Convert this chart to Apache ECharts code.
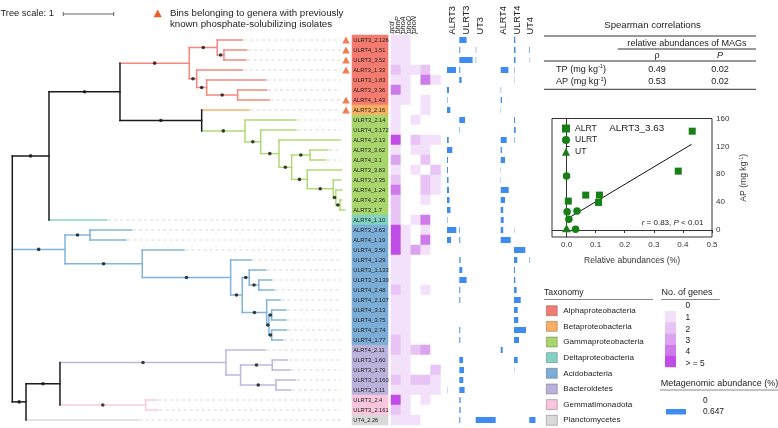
<!DOCTYPE html>
<html><head><meta charset="utf-8">
<script src="https://cdn.jsdelivr.net/npm/echarts@6/dist/echarts.min.js"></script>
<style>html,body{margin:0;padding:0;background:#fff}#c{width:778px;height:428px}</style>
</head><body><div id="c"></div>
<script>
// ---------------- DATA ----------------
const leafNames = ['ULRT3_2.126','ULRT4_1.51','ULRT3_3.52','ALRT3_1.33','ULRT3_1.83','ALRT3_3.36','ALRT4_1.43','ALRT3_2.16',
 'ULRT3_2.14','ULRT4_3.172','ALRT4_2.13','ALRT3_3.62','ALRT4_3.1','ALRT3_3.83','ALRT3_3.35','ALRT4_1.24','ALRT4_2.36','ALRT3_1.7',
 'ALRT4_1.10','ALRT3_3.63','ALRT4_1.19','ULRT4_3.50','ULRT4_1.29','ULRT3_1.133','ULRT3_3.130','ULRT4_2.48','ULRT4_2.107','ULRT4_3.13',
 'ULRT4_3.75','ULRT4_2.74','ULRT4_1.77','ALRT4_2.11','ULRT3_1.60','ULRT3_1.79','ULRT3_1.160','ULRT3_1.11','ULRT3_2.4','ULRT3_2.161','UT4_2.26'];
const leafClade = [0,0,0,0,0,0,0,1,2,2,2,2,2,2,2,2,2,2,3,4,4,4,4,4,4,4,4,4,4,4,4,5,5,5,5,5,6,6,7];
const psiLeaves = [0,1,2,3,6,7];
const cladeNames = ['Alphaproteobacteria','Betaproteobacteria','Gammaproteobacteria','Deltaproteobacteria','Acidobacteria','Bacteroidetes','Gemmatimonadota','Planctomycetes'];
const cladeColors = ['#F47B6F','#F9AE62','#A9D56D','#82D2C2','#7BADD6','#BBB2DB','#F9C6DD','#D9D9D9'];
const treeColors  = ['#F5877C','#F9B46E','#B0DB74','#88D6C6','#80B4DE','#BFB6E0','#FAC9E0','#D8D8D8'];
// Newick: leaves are row indices, '*' marks supported internal nodes (black dots); branch lengths in tree units
const treeNewick = "(((((0:0.496,(1:0.451,2:0.437)*:0.133)*:0.555,(3:0.904,(4:1.171,(5:0.576,6:0.627)*:0.615)*:0.198)*:0.147)*:1.375,(7:0.938,(8:1.012,(9:0.7,(10:1.208,((11:0.351,12:0.317)*:0.363,(13:0.677,(14:0.151,(15:0.12,(16:0.04,17:0.1)*:0.08)*:0.051)*:0.516)*:0.309)*:0.252)*:0.363)*:0.312)*:0.859)*:1.621)*:1.409,18:1.145)*:0.728,((19:0.827,20:0.714)*:0.496,(21:0.828,(22:0.403,((23:0.326,(24:0.256,25:0.301)*:0.189)*:0.139,(26:0.264,((27:0.284,28:0.284)*:0.054,(29:0.297,30:0.218)*:0.054)*:0.045)*:0.485)*:0.23)*:1.754)*:1.533)*:1.046,(((31:0.774,((32:0.297,33:0.351)*:0.629,(34:0.391,35:0.292)*:0.702):0.29)*:3.294,(36:0.218,37:0.25)*:1.701)*:0.674,38:2.228)*:0.272);";

const genes = ['gcd','phnP','phoA','phoD','phoN'];
const gcd  = [1,1,1,2,1,4,1,1,1,1,5,1,3,1,2,4,2,2,2,5,5,5,1,1,1,2,1,1,1,1,2,2,1,1,2,1,5,2,1];
const phnP = [1,1,1,1,1,1,1,0,0,0,0,0,0,0,0,0,0,0,0,1,1,1,1,1,1,1,1,1,1,1,1,1,1,1,1,1,1,1,1];
const phoA = [0,0,0,1,0,0,0,0,1,0,2,1,0,1,0,0,0,0,1,0,0,3,0,0,0,0,0,0,0,0,0,2,0,0,2,1,0,0,1];
const phoD = [0,0,0,2,4,0,1,1,0,0,1,1,2,0,2,2,1,0,4,1,4,1,0,0,0,1,0,0,0,0,0,3,0,0,2,1,1,0,0];
const phoN = [0,0,0,0,1,0,0,0,0,0,1,0,0,2,1,1,0,0,0,0,0,0,0,0,0,0,0,0,0,0,0,0,0,2,1,1,0,0,0];
const geneLevelLabels = ['0','1','2','3','4','> = 5'];
const geneLevelColors = ['#FFFFFF','#F3E0FB','#E8C3F5','#DCA3F1','#CF7AEB','#C24CE7'];

const samples = ['ALRT3','ULRT3','UT3','ALRT4','ULRT4','UT4'];
const abALRT3 = [0,0,0,0.291,0,0.065,0.016,0.107,0,0,0.055,0.171,0.032,0.032,0.049,0.065,0.081,0.113,0.016,0.301,0.129,0,0,0,0,0,0,0,0,0,0,0,0,0,0,0.01,0,0,0];
const abULRT3 = [0.236,0.032,0.43,0.032,0.074,0,0,0,0.184,0.016,0,0,0,0,0,0,0,0,0,0.023,0.032,0,0.042,0.097,0.236,0.032,0.032,0,0,0.032,0.032,0,0.12,0.152,0.129,0.171,0.042,0.042,0.032];
const abUT3   = [0,0.016,0.016,0,0,0,0,0,0,0,0,0,0,0,0,0,0,0,0,0,0,0,0,0,0,0,0,0,0,0,0,0,0,0,0,0,0,0,0.647];
const abALRT4 = [0,0,0,0.249,0,0.016,0.042,0.01,0,0,0.194,0.042,0.139,0.01,0.01,0.259,0.139,0.081,0.097,0.081,0.324,0,0,0,0,0,0,0,0,0,0,0.065,0,0,0,0,0,0,0];
const abULRT4 = [0.042,0.049,0.049,0.016,0.01,0,0,0,0.032,0.055,0.016,0,0,0,0,0,0,0,0,0.01,0,0.366,0.107,0.032,0.042,0.087,0.217,0.12,0.139,0.388,0.162,0,0.12,0.01,0,0,0,0,0];
const abUT4   = [0,0.023,0.01,0,0,0,0,0,0,0,0,0,0,0,0,0,0,0,0,0,0,0,0.016,0,0,0,0,0,0,0,0,0,0,0,0,0,0,0,0.2];
const abundanceMax = 0.647;

// inset scatter (ALRT3_3.63 vs AP)
const alrtX = [0.432,0.384,0.006,0.066,0.113,0.110];
const alrtY = [141.8,84.5,41.5,50.1,50.1,39.6];
const ulrtX = [0.0,0.002,0.036,0.008,0.031];
const ulrtY = [77.4,26.3,27.2,15.3,1.0];
const utX = [0.0];
const utY = [2.4];
const fitX = [0.0,0.43];
const fitY = [15.5,123.0];
const scatterXTicks = [0,0.1,0.2,0.3,0.4,0.5];
const scatterYTicks = [0,40,80,120,160];

const spearmanVars = ['TP','AP'];
const spearmanRho = ['0.49','0.53'];
const spearmanP = ['0.02','0.02'];

// ---------------- TREE PARSE / LAYOUT ----------------
function parseNewick(s){
  let i=0;
  function node(){
    const n={children:[],name:'',len:0};
    if(s[i]==='('){ i++; n.children.push(node()); while(s[i]===','){i++; n.children.push(node());} i++; }
    let name=''; while(i<s.length && !':,();'.includes(s[i])) name+=s[i++];
    n.name=name;
    if(s[i]===':'){ i++; let num=''; while(i<s.length && !',();'.includes(s[i])) num+=s[i++]; n.len=parseFloat(num); }
    return n;
  }
  return node();
}
const treeRoot = parseNewick(treeNewick);
const treeNodes=[];
(function walk(n,parent){
  n.x=(parent?parent.x:0)+n.len;
  n.px=parent?parent.x:n.x;
  if(!n.children.length){ n.leaf=true; n.y=+n.name; n.clade=leafClade[n.y]; n.y1=n.y2=n.y; }
  else{
    n.children.forEach(c=>walk(c,n));
    n.y1=n.children[0].y; n.y2=n.children[n.children.length-1].y; n.y=(n.y1+n.y2)/2;
    const cl=n.children.map(c=>c.clade);
    n.clade=cl.every(c=>c===cl[0]&&c>=0)?cl[0]:-1;
  }
  treeNodes.push(n);
})(treeRoot,null);

const DASH_END = 6.52;
const branchData = treeNodes.map(n=>[n.x,n.y,n.px,n.y1,n.y2,n.clade,n.leaf?1:0]);
const dotData = treeNodes.filter(n=>!n.leaf&&n.name==='*').map(n=>[(n.px+n.x)/2,n.y]);
const dashData = treeNodes.filter(n=>n.leaf&&n.x<DASH_END).map(n=>[n.x,n.y]);

// ---------------- CHART ----------------
const FONT='"Liberation Sans", Arial, Helvetica, sans-serif';
const TXT='#222';
const ROW_TOP=35, ROW_H=390;
const BLUE='#3F8CF0';
const GREEN='#167F16';
const chart=echarts.init(document.getElementById('c'));

const abLefts=[447,459.3,475.7,500.7,514,529.3];
const abData=[abALRT3,abULRT3,abUT3,abALRT4,abULRT4,abUT4];

const grids=[
  {left:12.3,top:ROW_TOP,width:332.6,height:ROW_H},   //0 tree
  {left:341,top:ROW_TOP,width:10,height:ROW_H},       //1 triangles
  {left:351.7,top:ROW_TOP,width:36.6,height:ROW_H},   //2 labels
  {left:391,top:ROW_TOP,width:49.5,height:ROW_H}      //3 heatmap
];
abLefts.forEach(l=>grids.push({left:l,top:ROW_TOP,width:20,height:ROW_H}));
grids.push({left:552,top:118.5,width:160,height:118.5,show:true,borderColor:'#333',borderWidth:1}); //10 scatter

const hiddenVal=(min,max,gi)=>({type:'value',gridIndex:gi,min,max,show:false});
const hiddenCat=(gi)=>({type:'category',gridIndex:gi,data:leafNames,inverse:true,show:false});
const xAxes=[hiddenVal(0,6.6,0),hiddenVal(0,1,1),hiddenVal(0,1,2),
  {type:'category',gridIndex:3,data:genes,show:false}];
const yAxes=[{type:'value',gridIndex:0,min:-0.5,max:38.5,inverse:true,show:false},hiddenCat(1),hiddenCat(2),hiddenCat(3)];
abLefts.forEach((l,k)=>{xAxes.push(hiddenVal(0,abundanceMax,4+k)); yAxes.push(hiddenCat(4+k));});
const axisTxt={color:'#333',fontSize:8,fontFamily:FONT};
xAxes.push({type:'value',gridIndex:10,min:-0.05,max:0.5,position:'bottom',
  name:'Relative abundances (%)',nameLocation:'middle',nameGap:19,nameTextStyle:{color:'#333',fontSize:8.6,fontFamily:FONT},
  axisLine:{show:true,lineStyle:{color:'#333'}},axisTick:{show:true,length:3,customValues:scatterXTicks,lineStyle:{color:'#333'}},
  axisLabel:Object.assign({customValues:scatterXTicks,formatter:v=>v.toFixed(1),margin:4},axisTxt),splitLine:{show:false}});
yAxes.push({type:'value',gridIndex:10,min:-10,max:160,position:'right',
  name:'AP (mg kg{s|-1})',nameLocation:'middle',nameGap:26,nameRotate:90,
  nameTextStyle:{color:'#333',fontSize:8.6,fontFamily:FONT,lineHeight:11,rich:{s:{fontSize:5.5,lineHeight:6,verticalAlign:'top',fontFamily:FONT,color:'#333'}}},
  axisLine:{show:true,lineStyle:{color:'#333'}},axisTick:{show:true,length:3,customValues:scatterYTicks,lineStyle:{color:'#333'}},
  axisLabel:Object.assign({customValues:scatterYTicks,margin:4},axisTxt),splitLine:{show:false}});

const series=[];
// dashed leaf extensions
series.push({type:'custom',xAxisIndex:0,yAxisIndex:0,z:1,silent:true,clip:false,data:dashData,
  renderItem:(p,api)=>{const a=api.coord([api.value(0),api.value(1)]),b=api.coord([DASH_END,api.value(1)]);
    return {type:'line',shape:{x1:a[0]+1.5,y1:a[1],x2:b[0],y2:b[1]},style:{stroke:'#D8D8D8',lineWidth:1,lineDash:[3,3]}};}});
// branches
series.push({type:'custom',xAxisIndex:0,yAxisIndex:0,z:2,silent:true,clip:false,data:branchData,
  renderItem:(p,api)=>{
    const x=api.value(0),y=api.value(1),px=api.value(2),y1=api.value(3),y2=api.value(4),ci=api.value(5),leaf=api.value(6);
    const col=ci>=0?treeColors[ci]:'#1c1c1c';const ch=[];
    const a=api.coord([px,y]),b=api.coord([x,y]);
    if(b[0]-a[0]>0.01) ch.push({type:'line',shape:{x1:a[0],y1:a[1],x2:b[0],y2:b[1]},style:{stroke:col,lineWidth:1.5,lineCap:'square'}});
    if(!leaf){const t=api.coord([x,y1]),u=api.coord([x,y2]);ch.push({type:'line',shape:{x1:t[0],y1:t[1],x2:u[0],y2:u[1]},style:{stroke:col,lineWidth:1.5,lineCap:'square'}});}
    return {type:'group',children:ch};}});
// support dots
series.push({type:'scatter',xAxisIndex:0,yAxisIndex:0,z:3,silent:true,data:dotData,symbol:'circle',symbolSize:3.6,itemStyle:{color:'#111'}});
// PSI triangles
series.push({type:'scatter',xAxisIndex:1,yAxisIndex:1,silent:true,data:psiLeaves.map(i=>[0.5,i]),symbol:'triangle',symbolSize:[7.5,7],itemStyle:{color:'#EF5B25'}});
// leaf label boxes
series.push({type:'custom',xAxisIndex:2,yAxisIndex:2,silent:true,clip:false,data:leafNames.map((n,i)=>[0,i]),
  renderItem:(p,api)=>{const i=api.value(1);const pt=api.coord([0,i]);const s=api.size([1,1]);
    return {type:'group',children:[
      {type:'rect',shape:{x:pt[0],y:pt[1]-s[1]/2-0.3,width:s[0],height:s[1]+0.6},style:{fill:cladeColors[leafClade[i]]}},
      {type:'text',x:pt[0]+1.6,y:pt[1]+0.3,style:{text:leafNames[i],fill:'#1a1a1a',fontSize:5.7,fontFamily:FONT,textAlign:'left',textVerticalAlign:'middle',align:'left',verticalAlign:'middle'}}]};}});
// heatmap
const heatData=[];
[gcd,phnP,phoA,phoD,phoN].forEach((arr,g)=>arr.forEach((v,i)=>heatData.push([g,i,v])));
const heatSeriesIndex=series.length;
series.push({type:'heatmap',xAxisIndex:3,yAxisIndex:3,silent:true,data:heatData,itemStyle:{borderWidth:0}});
// abundance bars
abData.forEach((arr,k)=>series.push({type:'bar',xAxisIndex:4+k,yAxisIndex:4+k,silent:true,data:arr,barWidth:6,itemStyle:{color:BLUE}}));
// inset scatter
const si=10;
series.push({type:'line',name:'fit',xAxisIndex:si,yAxisIndex:si,data:fitX.map((x,i)=>[x,fitY[i]]),symbol:'none',lineStyle:{color:'#111',width:1},silent:true,z:1});
series.push({type:'scatter',name:'ALRT',xAxisIndex:si,yAxisIndex:si,data:alrtX.map((x,i)=>[x,alrtY[i]]),symbol:'rect',symbolSize:7,itemStyle:{color:GREEN,opacity:1},z:3});
series.push({type:'scatter',name:'ULRT',xAxisIndex:si,yAxisIndex:si,data:ulrtX.map((x,i)=>[x,ulrtY[i]]),symbol:'circle',symbolSize:7.5,itemStyle:{color:GREEN,opacity:1},z:3});
series.push({type:'scatter',name:'UT',xAxisIndex:si,yAxisIndex:si,data:utX.map((x,i)=>[x,utY[i]]),symbol:'triangle',symbolSize:[9,8],itemStyle:{color:GREEN,opacity:1},z:3});

const option={
  animation:false,
  textStyle:{fontFamily:FONT},
  grid:grids,xAxis:xAxes,yAxis:yAxes,series,
  visualMap:[{type:'piecewise',show:false,seriesIndex:heatSeriesIndex,dimension:2,
    pieces:geneLevelColors.map((c,k)=>k<5?{value:k,color:c}:{gte:5,color:c})}],
  legend:{data:['ALRT','ULRT','UT'],orient:'vertical',left:562,top:124,itemWidth:8,itemHeight:8,itemGap:2.6,
    textStyle:{fontSize:8.6,color:'#222',fontFamily:FONT,lineHeight:8},selectedMode:false,padding:0}
};
chart.setOption(option);

// ---------------- ANNOTATIONS ----------------
const unitPx = chart.convertToPixel({xAxisIndex:0},1)-chart.convertToPixel({xAxisIndex:0},0);
function T(x,y,text,size,align,extra){
  return {type:'text',x,y,silent:true,style:Object.assign({text,fill:TXT,fontSize:size,fontFamily:FONT,
    textAlign:align||'left',align:align||'left',textVerticalAlign:'middle',verticalAlign:'middle'},extra||{})};
}
function L(x1,y1,x2,y2,col,w){return {type:'line',silent:true,shape:{x1,y1,x2,y2},style:{stroke:col||'#333',lineWidth:w||1}};}
const supRich={s:{fontSize:5.8,lineHeight:6,verticalAlign:'top',fontFamily:FONT,fill:TXT}};
const G=[];
// tree scale
G.push(T(0.5,13.5,'Tree scale: 1',9.3));
const sb0=63.3;
G.push(L(sb0,14,sb0+unitPx,14,'#666',1),L(sb0,12,sb0,16,'#666',1),L(sb0+unitPx,12,sb0+unitPx,16,'#666',1));
// PSI legend
G.push({type:'polygon',silent:true,shape:{points:[[153.6,17.2],[161.8,17.2],[157.7,9.6]]},style:{fill:'#EF5B25'}});
G.push(T(170,13.3,'Bins belonging to genera with previously',9.7));
G.push(T(170,24.8,'known phosphate-solubilizing isolates',9.7));
// column headers
const geneHdrX=[392.3,397.8,403.3,408.6,414];
genes.forEach((g,k)=>G.push(Object.assign(T(geneHdrX[k],33.5,g,7.4,'left',{fontStyle:'italic'}),{rotation:Math.PI/2})));
const abHdrX=[452,466,480,503,517,530];
samples.forEach((s,k)=>G.push(Object.assign(T(abHdrX[k],34.5,s,9.2,'left'),{rotation:Math.PI/2})));
// Spearman table
G.push(T(652.5,25,'Spearman correlations',9.6,'center'));
G.push(L(544,36,756,36,'#333',1));
G.push(T(687,43,'relative abundances of MAGs',9.1,'center'));
G.push(L(617.7,49,756,49,'#333',1));
G.push(T(657,55.5,'ρ',9.1,'center'));
G.push(T(720,55.3,'P',9.1,'center',{fontStyle:'italic'}));
G.push(L(544,61,756,61,'#333',1));
spearmanVars.forEach((v,r)=>{
  const y=69.3+r*12.4;
  G.push(T(556,y,v+' (mg kg{s|-1})',9.1,'left',{rich:supRich,lineHeight:11}));
  G.push(T(657,y,spearmanRho[r],9.1,'center'));
  G.push(T(720,y,spearmanP[r],9.1,'center'));
});
G.push(L(544,89.3,756,89.3,'#333',1));
// inset annotations
G.push(T(636.7,128.3,'ALRT3_3.63',9.8,'center'));
G.push(T(703.5,222.3,'{i|r} = 0.83, {i|P} < 0.01',8,'right',{rich:{i:{fontStyle:'italic',fontSize:8,fontFamily:FONT,fill:TXT}}}));
// Taxonomy legend
G.push(T(544,292.7,'Taxonomy',8.7));
G.push(L(544,299.5,653,299.5,'#888',1));
cladeNames.forEach((n,k)=>{
  const y=310.7+k*15.65;
  G.push({type:'rect',silent:true,shape:{x:546.3,y:y-5,width:11,height:10},style:{fill:cladeColors[k],stroke:'rgba(0,0,0,0.35)',lineWidth:0.7}});
  G.push(T(563.3,y,n,8.1));
});
// No. of genes legend
G.push(T(661.5,292.7,'No. of genes',9));
G.push(L(661,299.5,719.5,299.5,'#888',1));
for(let k=1;k<geneLevelColors.length;k++){
  G.push({type:'rect',silent:true,shape:{x:665,y:311+(k-1)*11.2,width:11,height:11.4},style:{fill:geneLevelColors[k]}});
}
const glY=[305.7,317.7,329.5,340.7,351.7,363.7];
geneLevelLabels.forEach((l,k)=>G.push(T(685.5,glY[k],l,8.4)));
// Abundance legend
G.push(T(660.7,383.3,'Metagenomic abundance (%)',9));
G.push(L(660,390,778,390,'#888',1));
G.push(T(703,400.6,'0',8.4));
G.push(T(703,411.7,String(abundanceMax),8.4));
const barPx = chart.convertToPixel({xAxisIndex:4},abundanceMax)-chart.convertToPixel({xAxisIndex:4},0);
G.push({type:'rect',silent:true,shape:{x:666,y:409,width:barPx,height:5.5},style:{fill:BLUE}});

chart.setOption({graphic:G});
</script></body></html>
